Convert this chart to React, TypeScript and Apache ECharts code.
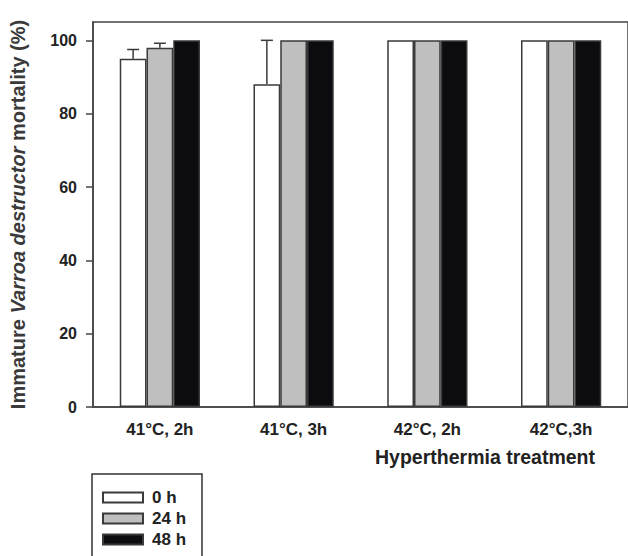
import React, { useEffect, useRef } from "react";
import * as echarts from "echarts";

const categories = ["41°C, 2h", "41°C, 3h", "42°C, 2h", "42°C,3h"];
const seriesNames = ["0 h", "24 h", "48 h"];
const mean0h = [95, 88, 100, 100];
const err0h = [2.5, 12, 0, 0];
const mean24h = [98, 100, 100, 100];
const err24h = [1.2, 0, 0, 0];
const mean48h = [100, 100, 100, 100];
const err48h = [0, 0, 0, 0];
const yTicks = [0, 20, 40, 60, 80, 100];

const FONT = "'Liberation Sans', Arial, Helvetica, sans-serif";
const EDGE = "#3a3a3a";
const fills = ["#ffffff", "#bfbfbf", "#0b0b10"];

export default function App() {
  const ref = useRef<HTMLDivElement>(null);
  useEffect(() => {
    if (!ref.current) return;
    const chart = echarts.init(ref.current, undefined, { renderer: "svg" });
    const means = [mean0h, mean24h, mean48h];
    const errs = [err0h, err24h, err48h];
    const barSeries = means.map((m, i) => ({
      name: seriesNames[i],
      type: "bar",
      data: m,
      barWidth: "20%",
      barGap: "0%",
      itemStyle: { color: fills[i], borderColor: EDGE, borderWidth: 1.5 },
      z: 2,
    }));
    const errSeries = means.map((m, i) => ({
      type: "custom",
      name: "err" + i,
      z: 5,
      silent: true,
      data: m.map((v, k) => [k, v, errs[i][k]]),
      renderItem: (params: any, api: any) => {
        const k = api.value(0);
        const v = api.value(1);
        const e = api.value(2);
        if (!e) return { type: "group", children: [] };
        const base = api.coord([k, v]);
        const top = api.coord([k, v + e]);
        const band = api.size([1, 0])[0];
        const x = base[0] + (i - 1) * band * 0.2;
        const half = 6;
        const style = { stroke: EDGE, lineWidth: 1.5 };
        return {
          type: "group",
          children: [
            { type: "line", shape: { x1: x, y1: base[1], x2: x, y2: top[1] }, style },
            { type: "line", shape: { x1: x - half, y1: top[1], x2: x + half, y2: top[1] }, style },
          ],
        };
      },
    }));
    chart.setOption({
      animation: false,
      textStyle: { fontFamily: FONT },
      grid: {
        left: 93,
        top: 22,
        width: 536,
        bottom: 149,
        show: true,
        borderColor: "#444",
        borderWidth: 1.5,
        backgroundColor: "transparent",
      },
      legend: {
        data: seriesNames,
        orient: "vertical",
        left: 102,
        top: 489,
        itemWidth: 40,
        itemHeight: 10,
        itemGap: 4,
        padding: 0,
        icon: "rect",
        textStyle: {
          fontFamily: FONT,
          fontSize: 17,
          fontWeight: "bold",
          color: "#222",
          lineHeight: 17,
          padding: [0, 0, 0, 4],
        },
      },
      xAxis: {
        type: "category",
        data: categories,
        axisLine: { show: true, lineStyle: { color: "#444", width: 1.5 } },
        axisTick: { show: false },
        axisLabel: {
          margin: 14,
          fontFamily: FONT,
          fontSize: 17,
          fontWeight: "bold",
          color: "#222",
        },
      },
      yAxis: {
        type: "value",
        min: 0,
        max: 105,
        interval: 20,
        splitLine: { show: false },
        axisLine: { show: true, lineStyle: { color: "#444", width: 1.5 } },
        axisTick: {
          show: true,
          length: 7,
          customValues: yTicks,
          lineStyle: { color: "#444", width: 1.5 },
        },
        axisLabel: {
          margin: 16,
          customValues: yTicks,
          fontFamily: FONT,
          fontSize: 16,
          fontWeight: "bold",
          color: "#222",
        },
        name: "{n|Immature }{i|Varroa destructor}{n| mortality (%)}",
        nameLocation: "middle",
        nameGap: 65,
        nameTextStyle: {
          rich: {
            n: { fontFamily: FONT, fontSize: 20, fontWeight: "bold", color: "#3a3a3a" },
            i: { fontFamily: FONT, fontSize: 20, fontWeight: "bold", fontStyle: "italic", color: "#3a3a3a" },
          },
        },
      },
      graphic: [
        {
          type: "text",
          x: 595,
          y: 457,
          style: {
            text: "Hyperthermia treatment",
            font: "bold 19.5px " + FONT,
            fill: "#222",
            align: "right",
            verticalAlign: "middle",
          },
        },
        {
          type: "rect",
          shape: { x: 92, y: 474, width: 110, height: 120 },
          style: { fill: "none", stroke: "#333", lineWidth: 1.5 },
        },
      ],
      series: [...barSeries, ...errSeries],
    });
    return () => chart.dispose();
  }, []);
  return <div ref={ref} style={{ width: 628, height: 556, position: "absolute", left: 0, top: 0 }} />;
}
